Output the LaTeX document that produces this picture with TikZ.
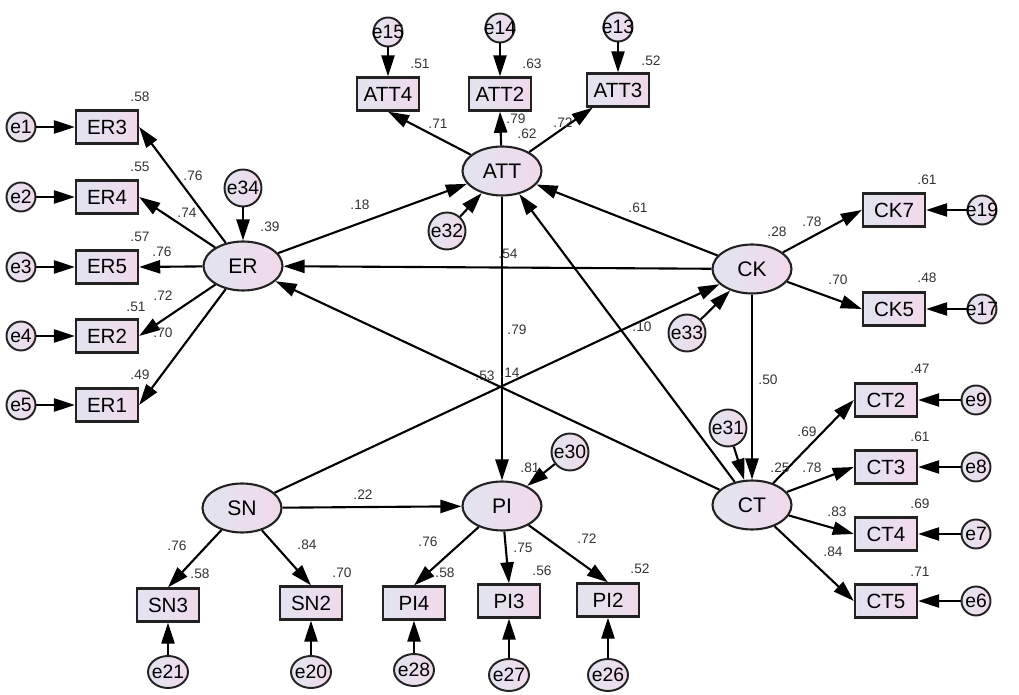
\documentclass[tikz,border=0pt]{standalone}
\usepackage{fontspec}
\setmainfont{Liberation Sans}
\usepackage{xcolor}
\definecolor{semleft}{HTML}{E2E4EF}
\definecolor{semright}{HTML}{F1D9EA}
\definecolor{semline}{HTML}{222222}
\definecolor{semtext}{HTML}{333333}
\usepackage{tikz}
\usetikzlibrary{arrows.meta,shapes.geometric}
\tikzset{
  semlat/.style={ellipse,draw=semline,line width=1.2pt,left color=semleft,right color=semright,minimum width=1.58cm,minimum height=0.98cm,inner sep=0pt,font=\fontsize{12}{14}\selectfont},
  semobs/.style={rectangle,draw=semline,line width=1.3pt,left color=semleft,right color=semright,minimum width=1.24cm,minimum height=0.66cm,inner sep=0pt,font=\fontsize{11.7}{13}\selectfont},
  semerr/.style={circle,draw=semline,line width=1.1pt,left color=semleft,right color=semright,minimum size=0.58cm,inner sep=-4pt,font=\fontsize{11}{12}\selectfont},
  semdist/.style={semerr,minimum size=0.74cm},
  semerrw/.style={semerr,ellipse,minimum width=0.8cm,minimum height=0.64cm},
  semflow/.style={-{Triangle[length=12pt,width=7.5pt]},line width=1.2pt},
  semcoef/.style={font=\fontsize{7.8}{9}\selectfont,inner sep=0pt,text=semtext},
}
\begin{document}
\begin{tikzpicture}[x=0.02cm,y=-0.02cm]
\useasboundingbox (0,0) rectangle (1019,695);
% latent variables
\node[semlat](ER) at (243,266){ER};
\node[semlat](ATT) at (502,171){ATT};
\node[semlat](CK) at (752,269){CK};
\node[semlat](CT) at (752,505){CT};
\node[semlat](SN) at (242,508){SN};
\node[semlat](PI) at (502,506){PI};
% observed items
\node[semobs](ER3) at (107,127){ER3};
\node[semobs](ER4) at (107,197){ER4};
\node[semobs](ER5) at (107,267){ER5};
\node[semobs](ER2) at (107,336){ER2};
\node[semobs](ER1) at (107,405){ER1};
\node[semobs](ATT4) at (388,94){ATT4};
\node[semobs](ATT2) at (500,94){ATT2};
\node[semobs](ATT3) at (618,90){ATT3};
\node[semobs](CK7) at (894,210){CK7};
\node[semobs](CK5) at (894,309){CK5};
\node[semobs](CT2) at (886,400){CT2};
\node[semobs](CT3) at (886,467){CT3};
\node[semobs](CT4) at (886,534){CT4};
\node[semobs](CT5) at (886,601){CT5};
\node[semobs](SN3) at (168,605){SN3};
\node[semobs](SN2) at (311,603){SN2};
\node[semobs](PI4) at (414,603){PI4};
\node[semobs](PI3) at (509,601){PI3};
\node[semobs](PI2) at (608,600){PI2};
% measurement errors
\node[semerr](e1) at (21,127){e1};
\node[semerr](e2) at (21,197){e2};
\node[semerr](e3) at (21,267){e3};
\node[semerr](e4) at (21,336){e4};
\node[semerr](e5) at (21,405){e5};
\node[semerr](e15) at (388,32){e15};
\node[semerr](e14) at (500,28){e14};
\node[semerr](e13) at (618,27){e13};
\node[semerr](e19) at (982,210){e19};
\node[semerr](e17) at (982,309){e17};
\node[semerr](e9) at (976,400){e9};
\node[semerr](e8) at (976,467){e8};
\node[semerr](e7) at (976,534){e7};
\node[semerr](e6) at (976,601){e6};
\node[semerrw](e21) at (168,672){e21};
\node[semerrw](e20) at (311,672){e20};
\node[semerrw](e28) at (414,670){e28};
\node[semerrw](e27) at (509,675){e27};
\node[semerrw](e26) at (608,675){e26};
% disturbances
\node[semdist](e34) at (243,188){e34};
\node[semdist](e32) at (447,231){e32};
\node[semdist](e33) at (687,333){e33};
\node[semdist](e31) at (728,428){e31};
\node[semdist](e30) at (570,452){e30};
% loadings
\draw[semflow](ER)--(ER3.east);
\draw[semflow](ER)--(ER4.east);
\draw[semflow](ER)--(ER5.east);
\draw[semflow](ER)--(ER2.east);
\draw[semflow](ER)--(ER1.east);
\draw[semflow](ATT)--(ATT4.south);
\draw[semflow](ATT)--(ATT2.south);
\draw[semflow](ATT)--(ATT3);
\draw[semflow](CK)--(CK7.west);
\draw[semflow](CK)--(CK5.west);
\draw[semflow](CT)--(CT2.west);
\draw[semflow](CT)--(CT3.west);
\draw[semflow](CT)--(CT4.west);
\draw[semflow](CT)--(CT5.west);
\draw[semflow](SN)--(SN3.north);
\draw[semflow](SN)--(SN2.north);
\draw[semflow](PI)--(PI4.north);
\draw[semflow](PI)--(PI3.north);
\draw[semflow](PI)--(PI2.north);
% errors
\draw[semflow](e1)--(ER3);
\draw[semflow](e2)--(ER4);
\draw[semflow](e3)--(ER5);
\draw[semflow](e4)--(ER2);
\draw[semflow](e5)--(ER1);
\draw[semflow](e15)--(ATT4);
\draw[semflow](e14)--(ATT2);
\draw[semflow](e13)--(ATT3);
\draw[semflow](e19)--(CK7);
\draw[semflow](e17)--(CK5);
\draw[semflow](e9)--(CT2);
\draw[semflow](e8)--(CT3);
\draw[semflow](e7)--(CT4);
\draw[semflow](e6)--(CT5);
\draw[semflow](e21)--(SN3);
\draw[semflow](e20)--(SN2);
\draw[semflow](e28)--(PI4);
\draw[semflow](e27)--(PI3);
\draw[semflow](e26)--(PI2);
\draw[semflow](e34)--(ER);
\draw[semflow](e32)--(ATT);
\draw[semflow](e33)--(CK);
\draw[semflow](e31)--(CT);
\draw[semflow](e30)--(PI);
% structural paths
\draw[semflow](ER)--(ATT);
\draw[semflow](CK)--(ATT);
\draw[semflow](CK)--(ER);
\draw[semflow](CT)--(ER);
\draw[semflow](CT)--(ATT);
\draw[semflow](CK)--(CT);
\draw[semflow](SN)--(CK);
\draw[semflow](SN)--(PI);
\draw[semflow](ATT)--(PI);
% estimates
\node[semcoef](sER3) at (140,97){.58};
\node[semcoef](sER4) at (140,167){.55};
\node[semcoef](sER5) at (140,237){.57};
\node[semcoef](sER2) at (136,307){.51};
\node[semcoef](sER1) at (140,375){.49};
\node[semcoef](lER3) at (193,176){.76};
\node[semcoef](lER4) at (187,213){.74};
\node[semcoef](lER5) at (162,252){.76};
\node[semcoef](lER2) at (163,296){.72};
\node[semcoef](lER1) at (163,333){.70};
\node[semcoef](rER) at (270,227){.39};
\node[semcoef](sATT4) at (420,64){.51};
\node[semcoef](sATT2) at (532,64){.63};
\node[semcoef](sATT3) at (651,61){.52};
\node[semcoef](lATT4) at (438,124){.71};
\node[semcoef](lATT2) at (516,119){.79};
\node[semcoef](rATT) at (527,134){.62};
\node[semcoef](lATT3) at (563,123){.72};
\node[semcoef](pERATT) at (360,205){.18};
\node[semcoef](pCKATT) at (638,208){.61};
\node[semcoef](pCKER) at (508,254){.54};
\node[semcoef](pATTPI) at (517,330){.79};
\node[semcoef](pCTATT) at (642,327){.10};
\node[semcoef](pCTER) at (485,376){.53};
\node[semcoef](pSNCK) at (510,373){.14};
\node[semcoef](sCK7) at (927,180){.61};
\node[semcoef](sCK5) at (927,278){.48};
\node[semcoef](rCK) at (777,232){.28};
\node[semcoef](lCK7) at (812,222){.78};
\node[semcoef](lCK5) at (838,280){.70};
\node[semcoef](pCKCT) at (768,380){.50};
\node[semcoef](rCT) at (780,468){.25};
\node[semcoef](lCT2) at (807,432){.69};
\node[semcoef](lCT3) at (812,468){.78};
\node[semcoef](lCT4) at (837,512){.83};
\node[semcoef](lCT5) at (833,552){.84};
\node[semcoef](sCT2) at (920,369){.47};
\node[semcoef](sCT3) at (920,437){.61};
\node[semcoef](sCT4) at (920,504){.69};
\node[semcoef](sCT5) at (920,572){.71};
\node[semcoef](pSNPI) at (363,495){.22};
\node[semcoef](lSN3) at (177,546){.76};
\node[semcoef](sSN3) at (200,574){.58};
\node[semcoef](lSN2) at (307,545){.84};
\node[semcoef](sSN2) at (342,573){.70};
\node[semcoef](rPI) at (530,468){.81};
\node[semcoef](lPI4) at (428,542){.76};
\node[semcoef](sPI4) at (445,573){.58};
\node[semcoef](lPI3) at (523,548){.75};
\node[semcoef](sPI3) at (542,571){.56};
\node[semcoef](lPI2) at (587,539){.72};
\node[semcoef](sPI2) at (640,569){.52};
\end{tikzpicture}
\end{document}
